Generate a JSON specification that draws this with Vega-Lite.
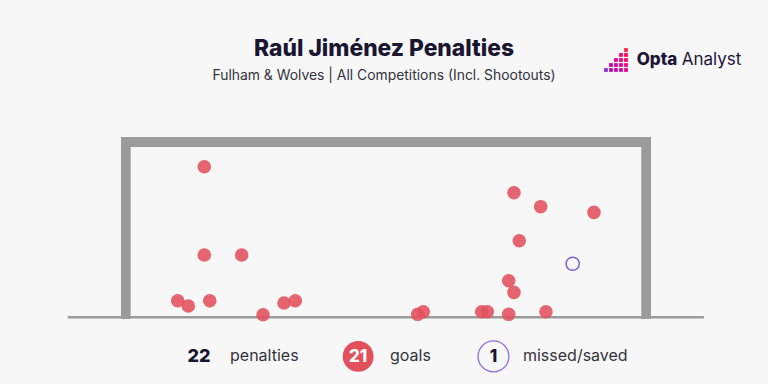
{
  "$schema": "https://vega.github.io/schema/vega-lite/v6.json",
  "width": 768,
  "height": 384,
  "autosize": {"type": "none"},
  "padding": 0,
  "background": "#f7f7f7",
  "config": {"view": {"stroke": null}, "font": "Inter"},
  "datasets": {
    "frame": [
      {"part": "left post", "x1": -0.139, "x2": 0, "y1": -0.025, "y2": 2.585},
      {"part": "crossbar", "x1": -0.139, "x2": 7.459, "y1": 2.44, "y2": 2.585},
      {"part": "right post", "x1": 7.32, "x2": 7.459, "y1": -0.025, "y2": 2.585}
    ],
    "ground": [{"x1": -0.903, "x2": 8.219, "y": 0}],
    "penalties": [
      {"x": 1.055, "y": 2.159, "outcome": "Goal"},
      {"x": 1.055, "y": 0.893, "outcome": "Goal"},
      {"x": 1.591, "y": 0.893, "outcome": "Goal"},
      {"x": 0.674, "y": 0.238, "outcome": "Goal"},
      {"x": 0.826, "y": 0.162, "outcome": "Goal"},
      {"x": 1.133, "y": 0.238, "outcome": "Goal"},
      {"x": 1.897, "y": 0.037, "outcome": "Goal"},
      {"x": 2.198, "y": 0.205, "outcome": "Goal"},
      {"x": 2.36, "y": 0.238, "outcome": "Goal"},
      {"x": 5.495, "y": 1.786, "outcome": "Goal"},
      {"x": 5.878, "y": 1.586, "outcome": "Goal"},
      {"x": 6.642, "y": 1.505, "outcome": "Goal"},
      {"x": 5.571, "y": 1.098, "outcome": "Goal"},
      {"x": 5.419, "y": 0.525, "outcome": "Goal"},
      {"x": 5.495, "y": 0.358, "outcome": "Goal"},
      {"x": 4.195, "y": 0.08, "outcome": "Goal"},
      {"x": 4.115, "y": 0.043, "outcome": "Goal"},
      {"x": 5.032, "y": 0.08, "outcome": "Goal"},
      {"x": 5.113, "y": 0.08, "outcome": "Goal"},
      {"x": 5.419, "y": 0.043, "outcome": "Goal"},
      {"x": 5.954, "y": 0.08, "outcome": "Goal"},
      {"x": 6.337, "y": 0.768, "outcome": "Missed/Saved"}
    ],
    "legend": [
      {"outcome": "Goal", "n": "21", "x": 3.261, "y": -0.56},
      {"outcome": "Missed/Saved", "n": "1", "x": 5.201, "y": -0.56}
    ],
    "text": [
      {"role": "title", "text": "Raúl Jiménez Penalties", "x": 3.632, "y": 3.746},
      {"role": "subtitle", "text": "Fulham & Wolves | All Competitions (Incl. Shootouts)", "x": 3.632, "y": 3.409},
      {"role": "brand_bold", "text": "Opta", "x": 7.254, "y": 3.617},
      {"role": "brand", "text": "Analyst", "x": 7.9, "y": 3.617},
      {"role": "count", "text": "22", "x": 0.979, "y": -0.56},
      {"role": "label", "text": "penalties", "x": 1.424, "y": -0.56},
      {"role": "label", "text": "goals", "x": 3.717, "y": -0.56},
      {"role": "label", "text": "missed/saved", "x": 5.624, "y": -0.56}
    ],
    "logo": [
      {"x": 7.101, "y": 3.832, "tone": 8},
      {"x": 7.101, "y": 3.761, "tone": 7},
      {"x": 7.101, "y": 3.689, "tone": 6},
      {"x": 7.101, "y": 3.617, "tone": 5},
      {"x": 7.101, "y": 3.546, "tone": 4},
      {"x": 7.029, "y": 3.761, "tone": 6},
      {"x": 7.029, "y": 3.689, "tone": 5},
      {"x": 7.029, "y": 3.617, "tone": 4},
      {"x": 7.029, "y": 3.546, "tone": 3},
      {"x": 6.957, "y": 3.689, "tone": 4},
      {"x": 6.957, "y": 3.617, "tone": 3},
      {"x": 6.957, "y": 3.546, "tone": 2},
      {"x": 6.886, "y": 3.617, "tone": 2},
      {"x": 6.886, "y": 3.546, "tone": 1},
      {"x": 6.814, "y": 3.546, "tone": 0}
    ]
  },
  "layer": [
    {
      "data": {"name": "frame"},
      "mark": {"type": "rect", "color": "#9b9b9b"},
      "encoding": {
        "x": {"field": "x1", "type": "quantitative", "scale": {"domain": [-1.874, 9.137], "nice": false, "zero": false}, "axis": null},
        "x2": {"field": "x2"},
        "y": {"field": "y1", "type": "quantitative", "scale": {"domain": [-0.956, 4.549], "nice": false, "zero": false}, "axis": null},
        "y2": {"field": "y2"}
      }
    },
    {
      "data": {"name": "ground"},
      "mark": {"type": "rule", "color": "#9b9b9b", "strokeWidth": 2.5},
      "encoding": {
        "x": {"field": "x1", "type": "quantitative", "scale": {"domain": [-1.874, 9.137], "nice": false, "zero": false}, "axis": null},
        "x2": {"field": "x2"},
        "y": {"field": "y", "type": "quantitative", "scale": {"domain": [-0.956, 4.549], "nice": false, "zero": false}, "axis": null}
      }
    },
    {
      "data": {"name": "penalties"},
      "transform": [{"filter": "datum.outcome === 'Goal'"}],
      "mark": {"type": "circle", "color": "#e2505c", "opacity": 0.88, "size": 185},
      "encoding": {
        "x": {"field": "x", "type": "quantitative", "scale": {"domain": [-1.874, 9.137], "nice": false, "zero": false}, "axis": null},
        "y": {"field": "y", "type": "quantitative", "scale": {"domain": [-0.956, 4.549], "nice": false, "zero": false}, "axis": null}
      }
    },
    {
      "data": {"name": "penalties"},
      "transform": [{"filter": "datum.outcome !== 'Goal'"}],
      "mark": {"type": "point", "shape": "circle", "filled": false, "stroke": "#7d5fd8", "strokeWidth": 1.5, "size": 175, "opacity": 1},
      "encoding": {
        "x": {"field": "x", "type": "quantitative", "scale": {"domain": [-1.874, 9.137], "nice": false, "zero": false}, "axis": null},
        "y": {"field": "y", "type": "quantitative", "scale": {"domain": [-0.956, 4.549], "nice": false, "zero": false}, "axis": null}
      }
    },
    {
      "data": {"name": "legend"},
      "transform": [{"filter": "datum.outcome === 'Goal'"}],
      "mark": {"type": "circle", "color": "#e2505c", "opacity": 1, "size": 950},
      "encoding": {
        "x": {"field": "x", "type": "quantitative", "scale": {"domain": [-1.874, 9.137], "nice": false, "zero": false}, "axis": null},
        "y": {"field": "y", "type": "quantitative", "scale": {"domain": [-0.956, 4.549], "nice": false, "zero": false}, "axis": null}
      }
    },
    {
      "data": {"name": "legend"},
      "transform": [{"filter": "datum.outcome !== 'Goal'"}],
      "mark": {"type": "point", "shape": "circle", "filled": false, "stroke": "#8e72dc", "strokeWidth": 1.3, "size": 950, "opacity": 1},
      "encoding": {
        "x": {"field": "x", "type": "quantitative", "scale": {"domain": [-1.874, 9.137], "nice": false, "zero": false}, "axis": null},
        "y": {"field": "y", "type": "quantitative", "scale": {"domain": [-0.956, 4.549], "nice": false, "zero": false}, "axis": null}
      }
    },
    {
      "data": {"name": "legend"},
      "mark": {"type": "text", "fontSize": 17, "fontWeight": 800, "align": "center", "baseline": "middle", "dy": 1},
      "encoding": {
        "x": {"field": "x", "type": "quantitative", "scale": {"domain": [-1.874, 9.137], "nice": false, "zero": false}, "axis": null},
        "y": {"field": "y", "type": "quantitative", "scale": {"domain": [-0.956, 4.549], "nice": false, "zero": false}, "axis": null},
        "text": {"field": "n"},
        "color": {"field": "outcome", "type": "nominal", "scale": {"domain": ["Goal", "Missed/Saved"], "range": ["#ffffff", "#1a1530"]}, "legend": null}
      }
    },
    {
      "data": {"name": "logo"},
      "mark": {"type": "square", "size": 14, "opacity": 1},
      "encoding": {
        "x": {"field": "x", "type": "quantitative", "scale": {"domain": [-1.874, 9.137], "nice": false, "zero": false}, "axis": null},
        "y": {"field": "y", "type": "quantitative", "scale": {"domain": [-0.956, 4.549], "nice": false, "zero": false}, "axis": null},
        "color": {"field": "tone", "type": "quantitative", "scale": {"domain": [0, 8], "range": ["#8a2ad8", "#ff1f4b"]}, "legend": null}
      }
    },
    {
      "data": {"name": "text"},
      "transform": [{"filter": "datum.role === 'title'"}],
      "mark": {"type": "text", "fontSize": 22.8, "fontWeight": 800, "color": "#1a1530", "align": "center", "baseline": "alphabetic"},
      "encoding": {
        "x": {"field": "x", "type": "quantitative", "scale": {"domain": [-1.874, 9.137], "nice": false, "zero": false}, "axis": null},
        "y": {"field": "y", "type": "quantitative", "scale": {"domain": [-0.956, 4.549], "nice": false, "zero": false}, "axis": null},
        "text": {"field": "text"}
      }
    },
    {
      "data": {"name": "text"},
      "transform": [{"filter": "datum.role === 'subtitle'"}],
      "mark": {"type": "text", "fontSize": 13.9, "color": "#33333d", "align": "center", "baseline": "alphabetic"},
      "encoding": {
        "x": {"field": "x", "type": "quantitative", "scale": {"domain": [-1.874, 9.137], "nice": false, "zero": false}, "axis": null},
        "y": {"field": "y", "type": "quantitative", "scale": {"domain": [-0.956, 4.549], "nice": false, "zero": false}, "axis": null},
        "text": {"field": "text"}
      }
    },
    {
      "data": {"name": "text"},
      "transform": [{"filter": "datum.role === 'brand_bold'"}],
      "mark": {"type": "text", "fontSize": 17, "fontWeight": 800, "color": "#1d1538", "align": "left", "baseline": "alphabetic"},
      "encoding": {
        "x": {"field": "x", "type": "quantitative", "scale": {"domain": [-1.874, 9.137], "nice": false, "zero": false}, "axis": null},
        "y": {"field": "y", "type": "quantitative", "scale": {"domain": [-0.956, 4.549], "nice": false, "zero": false}, "axis": null},
        "text": {"field": "text"}
      }
    },
    {
      "data": {"name": "text"},
      "transform": [{"filter": "datum.role === 'brand'"}],
      "mark": {"type": "text", "fontSize": 17, "fontWeight": 400, "color": "#1d1538", "align": "left", "baseline": "alphabetic"},
      "encoding": {
        "x": {"field": "x", "type": "quantitative", "scale": {"domain": [-1.874, 9.137], "nice": false, "zero": false}, "axis": null},
        "y": {"field": "y", "type": "quantitative", "scale": {"domain": [-0.956, 4.549], "nice": false, "zero": false}, "axis": null},
        "text": {"field": "text"}
      }
    },
    {
      "data": {"name": "text"},
      "transform": [{"filter": "datum.role === 'count'"}],
      "mark": {"type": "text", "fontSize": 18, "fontWeight": 800, "color": "#1a1530", "align": "center", "baseline": "middle", "dy": 1},
      "encoding": {
        "x": {"field": "x", "type": "quantitative", "scale": {"domain": [-1.874, 9.137], "nice": false, "zero": false}, "axis": null},
        "y": {"field": "y", "type": "quantitative", "scale": {"domain": [-0.956, 4.549], "nice": false, "zero": false}, "axis": null},
        "text": {"field": "text"}
      }
    },
    {
      "data": {"name": "text"},
      "transform": [{"filter": "datum.role === 'label'"}],
      "mark": {"type": "text", "fontSize": 16, "color": "#33333d", "align": "left", "baseline": "middle"},
      "encoding": {
        "x": {"field": "x", "type": "quantitative", "scale": {"domain": [-1.874, 9.137], "nice": false, "zero": false}, "axis": null},
        "y": {"field": "y", "type": "quantitative", "scale": {"domain": [-0.956, 4.549], "nice": false, "zero": false}, "axis": null},
        "text": {"field": "text"}
      }
    }
  ]
}
